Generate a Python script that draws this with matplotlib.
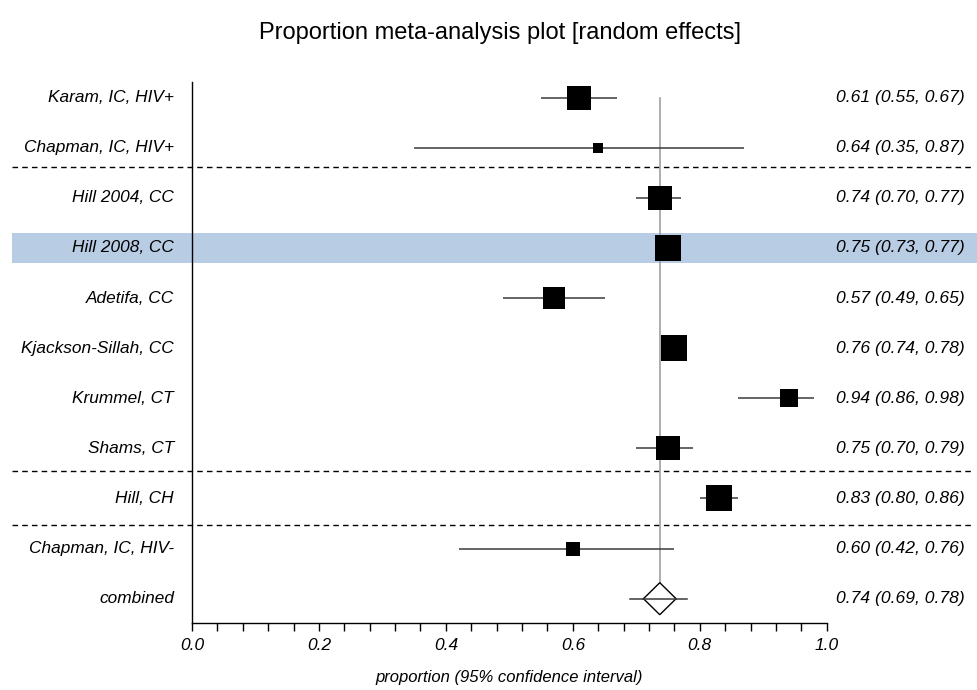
import matplotlib
matplotlib.use("Agg")
import matplotlib.pyplot as plt
import matplotlib.transforms as mtransforms
from matplotlib.patches import Polygon, Rectangle
import numpy as np

plt.rcParams['font.family'] = ['Liberation Sans', 'DejaVu Sans']

# ---------------- data ----------------
studies = ["Karam, IC, HIV+", "Chapman, IC, HIV+", "Hill 2004, CC", "Hill 2008, CC",
           "Adetifa, CC", "Kjackson-Sillah, CC", "Krummel, CT", "Shams, CT",
           "Hill, CH", "Chapman, IC, HIV-"]
estimates = [0.61, 0.64, 0.737, 0.75, 0.57, 0.76, 0.94, 0.75, 0.83, 0.60]
lower = [0.55, 0.35, 0.70, 0.73, 0.49, 0.74, 0.86, 0.70, 0.80, 0.42]
upper = [0.67, 0.87, 0.77, 0.77, 0.65, 0.78, 0.98, 0.79, 0.86, 0.76]
weights = [11.6, 1.7, 11.6, 13.5, 9.0, 13.5, 6.0, 11.6, 13.5, 4.2]
combined_label = "combined"
combined_est = 0.737
combined_lower = 0.69
combined_upper = 0.78
highlight_row = 3
group_breaks = [1.39, 7.45, 8.52]
xticks = [0.0, 0.2, 0.4, 0.6, 0.8, 1.0]

# ---------------- figure ----------------
W, H = 977, 690
fig = plt.figure(figsize=(W / 100, H / 100), dpi=100)
ax = fig.add_axes([192 / W, 1 - 623 / H, (826.7 - 192) / W, (623 - 82) / H])
n = len(studies)
ax.set_xlim(0, 1)
ax.set_ylim(10.485, -0.313)

px_per_row = 50.1

# highlight band (spans figure width)
blend = mtransforms.blended_transform_factory(fig.transFigure, ax.transData)
band_h = 30 / px_per_row
ax.add_patch(Rectangle((12 / W, highlight_row - band_h / 2), 1 - 12 / W, band_h,
                       transform=blend, facecolor="#b8cce4", edgecolor="none",
                       clip_on=False, zorder=0))

# group separators
for yb in group_breaks:
    ax.plot([12 / W, 972 / W], [yb, yb], transform=blend, color="black",
            lw=1.0, ls=(0, (4, 3)), clip_on=False, zorder=1)

# reference line at combined estimate
ax.plot([combined_est, combined_est], [0, n - 0.32], color="#a0a0a0", lw=1.2, zorder=2)

# studies
for i in range(n):
    ax.plot([lower[i], upper[i]], [i, i], color="#3a3a3a", lw=1.1, zorder=3,
            solid_capstyle="butt")
    side_px = 7.2 * np.sqrt(weights[i])
    ax.plot(estimates[i], i, marker="s", color="black",
            markersize=side_px * 0.72, markeredgewidth=0, zorder=4)

# combined
yc = n
ax.plot([combined_lower, combined_upper], [yc, yc], color="#3a3a3a", lw=1.1, zorder=3)
hw = 16.3 / 634.7
hh = 16.0 / px_per_row
ax.add_patch(Polygon([[combined_est - hw, yc], [combined_est, yc - hh],
                      [combined_est + hw, yc], [combined_est, yc + hh]],
                     closed=True, facecolor="white", edgecolor="black", lw=1.0, zorder=5))
ax.plot([combined_est - hw, combined_est + hw], [yc, yc], color="#3a3a3a", lw=1.1, zorder=6)

# left labels & right labels
labels = studies + [combined_label]
ests = estimates + [combined_est]
los = lower + [combined_lower]
ups = upper + [combined_upper]
lab_trans = mtransforms.blended_transform_factory(fig.transFigure, ax.transData)
for i, lab in enumerate(labels):
    ax.text(174 / W, i, lab, transform=lab_trans, ha="right", va="center",
            fontsize=12.4, style="italic")
    ax.text(965 / W, i, f"{ests[i]:.2f} ({los[i]:.2f}, {ups[i]:.2f})",
            transform=lab_trans, ha="right", va="center", fontsize=12.6, style="italic")

# axes styling
for s in ["top", "right"]:
    ax.spines[s].set_visible(False)
ax.spines["left"].set_linewidth(1.0)
ax.spines["bottom"].set_linewidth(1.0)
ax.set_yticks([])
ax.set_xticks(xticks)
ax.set_xticklabels([f"{t:.1f}" for t in xticks], fontsize=12.5, style="italic")
ax.set_xticks(np.arange(0, 1.0001, 0.04), minor=True)
ax.tick_params(axis="x", which="both", direction="out", length=6, width=1.0, pad=5)
ax.set_xlabel("proportion (95% confidence interval)", fontsize=12, style="italic",
              labelpad=12)

fig.text(0.512, 1 - 33 / H, "Proportion meta-analysis plot [random effects]",
         ha="center", va="center", fontsize=17)

fig.savefig("out.png", dpi=100)
